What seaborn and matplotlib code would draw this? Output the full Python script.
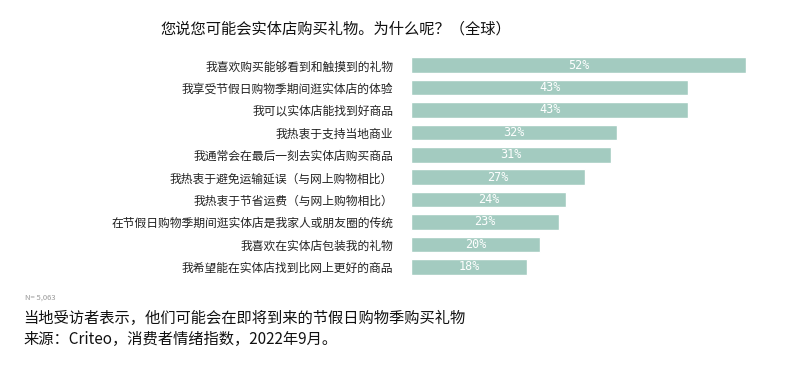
import matplotlib
matplotlib.use("Agg")
import matplotlib.pyplot as plt
import seaborn as sns
import pandas as pd

reasons = [
    "我喜欢购买能够看到和触摸到的礼物",
    "我享受节假日购物季期间逛实体店的体验",
    "我可以实体店能找到好商品",
    "我热衷于支持当地商业",
    "我通常会在最后一刻去实体店购买商品",
    "我热衷于避免运输延误（与网上购物相比）",
    "我热衷于节省运费（与网上购物相比）",
    "在节假日购物季期间逛实体店是我家人或朋友圈的传统",
    "我喜欢在实体店包装我的礼物",
    "我希望能在实体店找到比网上更好的商品",
]
shares = [52, 43, 43, 32, 31, 27, 24, 23, 20, 18]

df = pd.DataFrame({"reason": reasons, "share": shares})

sns.set_style("white")
plt.rcParams["font.family"] = ["Noto Sans CJK SC", "DejaVu Sans"]

fig = plt.figure(figsize=(8, 3.69), dpi=100)
ax = fig.add_axes([0.514, 0.2466, 0.4186, 0.6071])

sns.barplot(data=df, x="share", y="reason", color="#a3cbc0", saturation=1,
            width=0.7, ax=ax)

for i, v in enumerate(shares):
    ax.text(v / 2, i, f"{v}%", color="white", ha="center", va="center",
            fontsize=8.5, fontfamily="DejaVu Sans Mono")

ax.set_xlim(0, 52)
ax.set_ylim(9.5, -0.5)
ax.set_xlabel("")
ax.set_ylabel("")
ax.set_xticks([])
ax.tick_params(axis="y", length=0, pad=13, labelsize=8.5, labelcolor="#222222")
sns.despine(ax=ax, left=True, bottom=True)

fig.text(0.2, 0.92, "您说您可能会实体店购买礼物。为什么呢？（全球）",
         fontsize=11, color="#111111", va="center", fontweight="medium")
fig.text(0.031, 0.192, "N= 5,063", fontsize=5.5, color="#999999", va="center")
fig.text(0.029, 0.138, "当地受访者表示，他们可能会在即将到来的节假日购物季购买礼物",
         fontsize=11, color="#111111", va="center")
fig.text(0.029, 0.081, "来源：Criteo，消费者情绪指数，2022年9月。",
         fontsize=11, color="#111111", va="center")

fig.savefig("out.png", dpi=100, facecolor="white")
